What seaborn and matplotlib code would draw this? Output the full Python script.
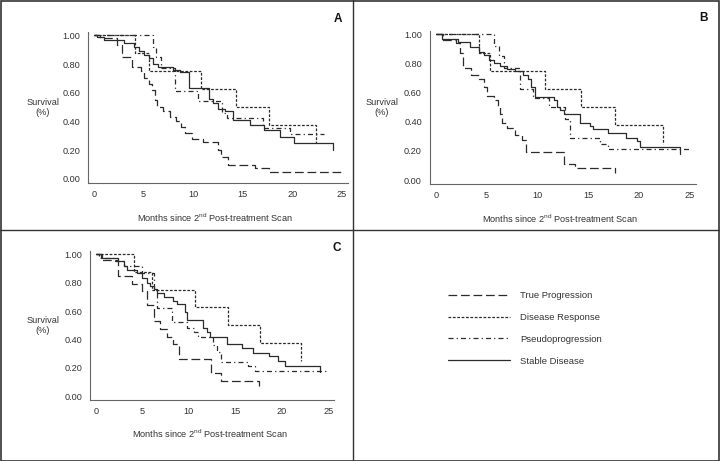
import numpy as np
import pandas as pd
import matplotlib
matplotlib.use("Agg")
import matplotlib.pyplot as plt
import seaborn as sns
from matplotlib.lines import Line2D
from matplotlib.patches import Rectangle

# Kaplan-Meier step data (time, survival after event)
groups = ["True Progression", "Disease Response", "Pseudoprogression", "Stable Disease"]

# Panel A
a_true_t = [0, 0.6, 2.3, 2.8, 3.8, 4.7, 5.0, 5.5, 5.8, 6.2, 6.4, 7.0, 7.7, 8.3, 8.8, 9.2, 9.9, 11.0, 12.5, 12.8, 13.5, 16.2, 17.6]
a_true_s = [1.0, 0.98, 0.93, 0.85, 0.78, 0.75, 0.70, 0.66, 0.62, 0.55, 0.50, 0.47, 0.43, 0.40, 0.36, 0.32, 0.28, 0.26, 0.20, 0.15, 0.10, 0.075, 0.05]
a_true_end = 25.0
a_resp_t = [0, 4.15, 5.5, 10.8, 14.3, 17.6, 22.4]
a_resp_s = [1.0, 0.875, 0.75, 0.625, 0.50, 0.375, 0.25]
a_resp_end = 22.4
a_pseudo_t = [0, 5.9, 6.3, 6.8, 8.2, 10.5, 12.9, 13.4, 17.0, 19.8]
a_pseudo_s = [1.0, 0.92, 0.85, 0.77, 0.615, 0.54, 0.46, 0.425, 0.355, 0.31]
a_pseudo_end = 23.2
a_stable_t = [0, 0.3, 1.0, 3.0, 4.0, 4.5, 5.0, 5.5, 6.0, 6.5, 8.0, 8.7, 9.6, 11.6, 12.0, 12.5, 13.2, 14.0, 15.7, 17.1, 18.7, 20.2, 24.1]
a_stable_s = [1.0, 0.99, 0.97, 0.945, 0.92, 0.89, 0.86, 0.84, 0.80, 0.78, 0.76, 0.745, 0.63, 0.56, 0.53, 0.49, 0.47, 0.41, 0.375, 0.34, 0.295, 0.25, 0.20]
a_stable_end = 24.1

# Panel B
b_true_t = [0, 0.7, 2.0, 2.4, 2.7, 3.5, 4.2, 4.7, 5.0, 5.7, 6.1, 6.3, 6.5, 7.0, 7.8, 8.5, 8.9, 12.6, 13.7, 17.7]
b_true_s = [1.0, 0.96, 0.94, 0.87, 0.77, 0.72, 0.69, 0.64, 0.58, 0.55, 0.50, 0.45, 0.39, 0.355, 0.31, 0.275, 0.195, 0.11, 0.08, 0.045]
b_true_end = 17.7
b_resp_t = [0, 4.2, 5.3, 10.8, 14.3, 17.7, 22.4]
b_resp_s = [1.0, 0.875, 0.75, 0.625, 0.50, 0.375, 0.25]
b_resp_end = 22.4
b_pseudo_t = [0, 5.7, 6.2, 6.7, 8.3, 9.6, 11.2, 12.7, 13.2, 16.2, 17.0]
b_pseudo_s = [1.0, 0.92, 0.85, 0.77, 0.625, 0.56, 0.50, 0.42, 0.29, 0.25, 0.21]
b_pseudo_end = 25.0
b_stable_t = [0, 0.6, 2.2, 3.4, 4.2, 4.7, 5.2, 5.7, 6.3, 7.0, 7.8, 8.6, 9.1, 9.4, 9.8, 11.6, 11.9, 12.2, 12.6, 14.2, 15.2, 15.5, 17.0, 18.8, 19.8, 20.1, 24.1]
b_stable_s = [1.0, 0.97, 0.95, 0.915, 0.88, 0.86, 0.825, 0.80, 0.78, 0.76, 0.745, 0.72, 0.69, 0.64, 0.57, 0.55, 0.50, 0.48, 0.45, 0.39, 0.37, 0.35, 0.325, 0.29, 0.27, 0.23, 0.18]
b_stable_end = 24.1

# Panel C
c_true_t = [0, 0.5, 2.4, 3.9, 4.9, 5.5, 6.2, 6.9, 7.6, 8.3, 8.9, 12.4, 13.4, 17.5]
c_true_s = [1.0, 0.96, 0.845, 0.79, 0.74, 0.64, 0.53, 0.475, 0.42, 0.37, 0.26, 0.16, 0.105, 0.07]
c_true_end = 17.5
c_resp_t = [0, 4.05, 6.0, 10.7, 14.2, 17.6, 22.1]
c_resp_s = [1.0, 0.875, 0.75, 0.625, 0.50, 0.375, 0.25]
c_resp_end = 22.1
c_pseudo_t = [0, 0.3, 2.0, 3.0, 5.0, 6.2, 6.6, 8.2, 9.8, 10.5, 11.0, 12.6, 13.0, 13.4, 16.4, 17.1]
c_pseudo_s = [1.0, 0.975, 0.95, 0.92, 0.87, 0.75, 0.62, 0.52, 0.48, 0.45, 0.42, 0.36, 0.31, 0.24, 0.21, 0.175]
c_pseudo_end = 25.0
c_stable_t = [0, 0.6, 2.4, 3.0, 3.3, 4.4, 4.9, 5.5, 5.8, 6.2, 6.6, 7.3, 8.3, 8.7, 9.6, 9.8, 11.5, 11.9, 12.3, 14.1, 15.7, 16.9, 18.6, 19.6, 20.3, 24.1]
c_stable_s = [1.0, 0.975, 0.95, 0.92, 0.89, 0.87, 0.83, 0.80, 0.78, 0.755, 0.73, 0.70, 0.67, 0.65, 0.59, 0.54, 0.48, 0.45, 0.42, 0.37, 0.34, 0.305, 0.28, 0.25, 0.21, 0.17]
c_stable_end = 24.1

panels = {
    "A": [(a_true_t, a_true_s, a_true_end), (a_resp_t, a_resp_s, a_resp_end),
          (a_pseudo_t, a_pseudo_s, a_pseudo_end), (a_stable_t, a_stable_s, a_stable_end)],
    "B": [(b_true_t, b_true_s, b_true_end), (b_resp_t, b_resp_s, b_resp_end),
          (b_pseudo_t, b_pseudo_s, b_pseudo_end), (b_stable_t, b_stable_s, b_stable_end)],
    "C": [(c_true_t, c_true_s, c_true_end), (c_resp_t, c_resp_s, c_resp_end),
          (c_pseudo_t, c_pseudo_s, c_pseudo_end), (c_stable_t, c_stable_s, c_stable_end)],
}

line_styles = {
    "True Progression": (0, (7, 3)),
    "Disease Response": (0, (2.2, 1.3)),
    "Pseudoprogression": (0, (4, 2.5, 1, 2.5)),
    "Stable Disease": "-",
}

sns.set_style("white")
plt.rcParams["font.family"] = ["Liberation Sans", "DejaVu Sans"]
plt.rcParams["mathtext.fontset"] = "custom"
plt.rcParams["mathtext.rm"] = "Liberation Sans"

fig = plt.figure(figsize=(7.2, 4.61), dpi=100)

# axes boxes in pixels: left, top, right, bottom
boxes = {
    "A": (87.7, 31.7, 348.3, 182.7),
    "B": (429.6, 30.7, 695.7, 183.8),
    "C": (90.1, 250.8, 334.2, 399.7),
}
letter_pos = {"A": (338, 19), "B": (703, 18), "C": (337, 248)}
W, H = 720, 461

line_col = "#2b2b2b"
ax_col = "#666666"
txt_col = "#333333"

handles = []
for key, curves in panels.items():
    l, t, r, b = boxes[key]
    ax = fig.add_axes([l / W, 1 - b / H, (r - l) / W, (b - t) / H])
    for name, (tt, ss, end) in zip(groups, curves):
        df = pd.DataFrame({"time": list(tt) + [end], "surv": list(ss) + [ss[-1]]})
        sns.lineplot(data=df, x="time", y="surv", ax=ax, sort=False, estimator=None,
                     drawstyle="steps-post", color=line_col, linewidth=0.9,
                     linestyle=line_styles[name])
    ax.set_xlim(-0.63, 25.63)
    ax.set_ylim(-0.026, 1.025)
    ax.set_xticks(np.arange(0, 26, 5))
    ax.set_yticks(np.arange(0, 1.01, 0.2))
    ax.set_yticklabels([f"{v:.2f}" for v in np.arange(0, 1.01, 0.2)])
    sns.despine(ax=ax)
    for sp in ["left", "bottom"]:
        ax.spines[sp].set_color(ax_col)
        ax.spines[sp].set_linewidth(0.8)
    ax.tick_params(axis="both", direction="out", length=2.5, width=0.7, color=ax_col,
                   labelsize=6.6, labelcolor=txt_col, pad=2.5)
    ax.tick_params(axis="y", pad=3)
    ax.set_xlabel(r"Months since 2$^{\mathregular{nd}}$ Post-treatment Scan",
                  fontsize=6.6, color=txt_col)
    ax.xaxis.set_label_coords(0.49, -0.19)
    ax.set_ylabel("Survival\n(%)", rotation=0, fontsize=6.6, color=txt_col,
                  ha="center", va="center")
    ax.yaxis.set_label_coords(-(l - (43 if key != "B" else 381.7)) / (r - l), 0.5)
    lx, ly = letter_pos[key]
    fig.text(lx / W, 1 - ly / H, key, fontsize=8.5, fontweight="bold",
             ha="center", va="center", color="#111111")
    if key == "A":
        handles = [Line2D([0], [0], color=line_col, linewidth=0.9, linestyle=line_styles[g])
                   for g in groups]

fig.legend(handles, groups, loc="center left", bbox_to_anchor=(447.7 / W, 1 - 328.4 / H),
           frameon=False, fontsize=6.8, handlelength=6.6, handletextpad=1.1,
           labelspacing=1.35, borderpad=0, borderaxespad=0, labelcolor=txt_col)

# panel frames
border_col = "#333333"
fig.add_artist(Rectangle((0.001, 0.001), 0.997, 0.997, transform=fig.transFigure,
                         fill=False, edgecolor=border_col, linewidth=1.2))
fig.add_artist(Line2D([352.7 / W, 352.7 / W], [0, 1], transform=fig.transFigure,
                      color=border_col, linewidth=1.0))
fig.add_artist(Line2D([0, 1], [1 - 229.5 / H, 1 - 229.5 / H], transform=fig.transFigure,
                      color=border_col, linewidth=1.0))

fig.savefig("out.png", dpi=100)
